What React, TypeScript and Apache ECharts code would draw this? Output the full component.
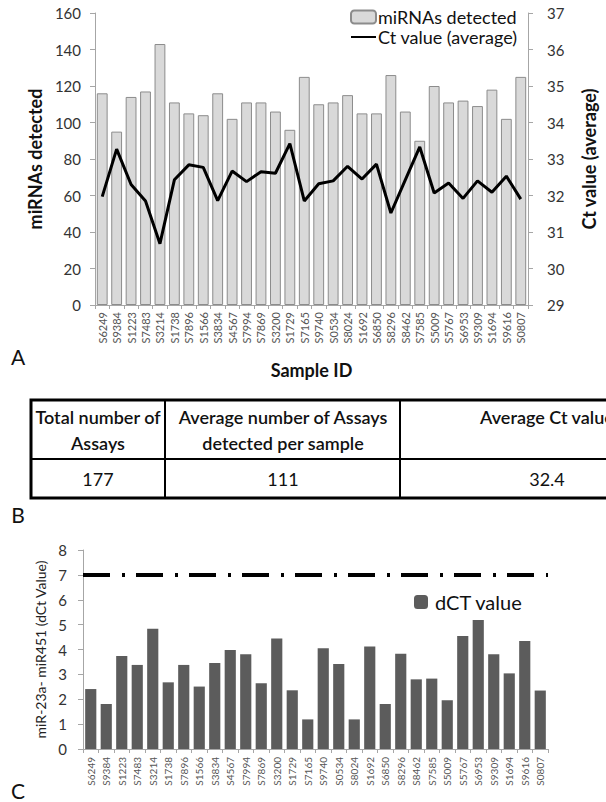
import React, { useEffect, useRef } from "react";
import * as echarts from "echarts";

const categories = ["S6249","S9384","S1223","S7483","S3214","S1738","S7896","S1566","S3834","S4567","S7994","S7869","S3200","S1729","S7165","S9740","S0534","S8024","S1692","S6850","S8296","S8462","S7585","S5009","S5767","S6953","S9309","S1694","S9616","S0807"];

const mirnasDetected = [116,95,114,117,143,111,105,104,116,102,111,111,106,96,125,110,111,115,105,105,126,106,90,120,111,112,109,118,102,125];

const ctValueAverage = [31.97,33.27,32.3,31.85,30.68,32.43,32.84,32.77,31.86,32.67,32.38,32.65,32.61,33.42,31.85,32.32,32.4,32.8,32.45,32.86,31.52,32.43,33.33,32.07,32.34,31.92,32.4,32.09,32.53,31.9];

const dctValues = [2.41,1.81,3.74,3.38,4.83,2.68,3.38,2.51,3.46,3.98,3.81,2.64,4.44,2.36,1.19,4.05,3.42,1.19,4.12,1.81,3.83,2.8,2.83,1.96,4.54,5.19,3.81,3.04,4.34,2.35];

const dctThreshold = 7;

const tableHeaders = [["Total number of", "Assays"], ["Average number of Assays", "detected per sample"], ["Average Ct value"]];
const tableValues = ["177", "111", "32.4"];
const panelLetters = ["A", "B", "C"];

const FONT = "Lato, 'Open Sans', sans-serif";

export default function App() {
  const ref = useRef<HTMLDivElement>(null);

  useEffect(() => {
    document.body.style.margin = "0";
    const chart = echarts.init(ref.current!, undefined, { renderer: "svg" });

    const colX = [31, 165, 400, 690];
    const tableGraphics: any[] = [];
    tableGraphics.push({ type: "rect", shape: { x: colX[0], y: 400, width: colX[3] - colX[0], height: 98 }, style: { fill: "none", stroke: "#000", lineWidth: 3 } });
    tableGraphics.push({ type: "line", shape: { x1: colX[0], y1: 459, x2: colX[3], y2: 459 }, style: { stroke: "#000", lineWidth: 2 } });
    tableGraphics.push({ type: "line", shape: { x1: colX[1], y1: 400, x2: colX[1], y2: 498 }, style: { stroke: "#000", lineWidth: 2 } });
    tableGraphics.push({ type: "line", shape: { x1: colX[2], y1: 400, x2: colX[2], y2: 498 }, style: { stroke: "#000", lineWidth: 2 } });
    const colCenters = [98, 283, 547];
    tableHeaders.forEach((lines, i) => {
      lines.forEach((t, j) => {
        tableGraphics.push({ type: "text", x: colCenters[i], y: 417 + j * 26, style: { text: t, fill: "#111", font: `600 18px ${FONT}`, align: "center", verticalAlign: "middle" } });
      });
    });
    tableValues.forEach((t, i) => {
      tableGraphics.push({ type: "text", x: colCenters[i], y: 479, style: { text: t, fill: "#111", font: `18px ${FONT}`, align: "center", verticalAlign: "middle" } });
    });
    const letterY = [356, 514, 790];
    panelLetters.forEach((t, i) => {
      tableGraphics.push({ type: "text", x: 18, y: letterY[i], style: { text: t, fill: "#111", font: `21px ${FONT}`, align: "center", verticalAlign: "middle" } });
    });

    const axisLineGrey = { lineStyle: { color: "#a6a6a6", width: 1 } };

    chart.setOption({
      animation: false,
      textStyle: { fontFamily: FONT },
      grid: [
        { left: 95, right: 61, top: 13, bottom: 497 },
        { left: 83, right: 58, top: 550, bottom: 53 },
      ],
      legend: [
        {
          data: [
            { name: "miRNAs detected" },
            { name: "Ct value (average)", itemStyle: { opacity: 0 } },
          ],
          orient: "vertical",
          left: 350,
          top: 8,
          padding: 0,
          itemGap: 2,
          itemWidth: 25,
          itemHeight: 13,
          textStyle: { fontSize: 18, color: "#111", padding: [0, 0, 0, -3] },
        },
        {
          data: ["dCT value"],
          left: 414,
          top: 592,
          padding: 0,
          itemWidth: 14,
          itemHeight: 14,
          textStyle: { fontSize: 20, color: "#111", padding: [0, 0, 0, 2] },
        },
      ],
      xAxis: [
        {
          type: "category",
          gridIndex: 0,
          data: categories,
          name: "Sample ID",
          nameLocation: "middle",
          nameGap: 56,
          nameTextStyle: { fontSize: 18, fontWeight: "bold", color: "#111" },
          axisLine: axisLineGrey,
          axisTick: { show: true, length: 4, lineStyle: { color: "#a6a6a6" } },
          axisLabel: { rotate: 90, fontSize: 11, color: "#555", margin: 7, interval: 0 },
        },
        {
          type: "category",
          gridIndex: 1,
          data: categories,
          axisLine: axisLineGrey,
          axisTick: { show: true, length: 4, lineStyle: { color: "#a6a6a6" } },
          axisLabel: { rotate: 90, fontSize: 10, color: "#555", margin: 8, interval: 0 },
        },
      ],
      yAxis: [
        {
          type: "value",
          gridIndex: 0,
          min: 0,
          max: 160,
          interval: 20,
          name: "miRNAs detected",
          nameLocation: "middle",
          nameRotate: 90,
          nameGap: 44,
          nameTextStyle: { fontSize: 18, fontWeight: "bold", color: "#111" },
          axisLine: { show: true, ...axisLineGrey },
          axisTick: { show: true, length: 5, lineStyle: { color: "#a6a6a6" } },
          axisLabel: { fontSize: 15, color: "#333", margin: 14 },
          splitLine: { show: false },
        },
        {
          type: "value",
          gridIndex: 0,
          position: "right",
          min: 29,
          max: 37,
          interval: 1,
          name: "Ct value (average)",
          nameLocation: "middle",
          nameRotate: 90,
          nameGap: 52,
          nameTextStyle: { fontSize: 18, fontWeight: "bold", color: "#111" },
          axisLine: { show: true, ...axisLineGrey },
          axisTick: { show: true, length: 5, lineStyle: { color: "#a6a6a6" } },
          axisLabel: { fontSize: 15, color: "#333", margin: 19 },
          splitLine: { show: false },
        },
        {
          type: "value",
          gridIndex: 1,
          min: 0,
          max: 8,
          interval: 1,
          name: "miR-23a- miR451 (dCt Value)",
          nameLocation: "middle",
          nameRotate: 90,
          nameGap: 33,
          nameTextStyle: { fontSize: 14, color: "#222" },
          axisLine: { show: true, ...axisLineGrey },
          axisTick: { show: true, length: 5, lineStyle: { color: "#a6a6a6" } },
          axisLabel: { fontSize: 15, color: "#333", margin: 16 },
          splitLine: { show: false },
        },
      ],
      series: [
        {
          name: "miRNAs detected",
          type: "bar",
          xAxisIndex: 0,
          yAxisIndex: 0,
          data: mirnasDetected,
          barCategoryGap: "25%",
          itemStyle: { color: "#d9d9d9", borderColor: "#8c8c8c", borderWidth: 1 },
        },
        {
          name: "Ct value (average)",
          type: "line",
          xAxisIndex: 0,
          yAxisIndex: 1,
          data: ctValueAverage,
          symbol: "none",
          itemStyle: { color: "#000" },
          lineStyle: { color: "#000", width: 3 },
        },
        {
          name: "dCT value",
          type: "bar",
          xAxisIndex: 1,
          yAxisIndex: 2,
          data: dctValues,
          barCategoryGap: "28%",
          itemStyle: { color: "#5c5c5c" },
          markLine: {
            silent: true,
            symbol: "none",
            label: { show: false },
            lineStyle: { color: "#000", width: 4, type: [27, 12, 3, 11] },
            data: [{ yAxis: dctThreshold }],
          },
        },
      ],
      graphic: tableGraphics,
    });

    return () => chart.dispose();
  }, []);

  return <div ref={ref} style={{ width: 606, height: 802 }} />;
}
